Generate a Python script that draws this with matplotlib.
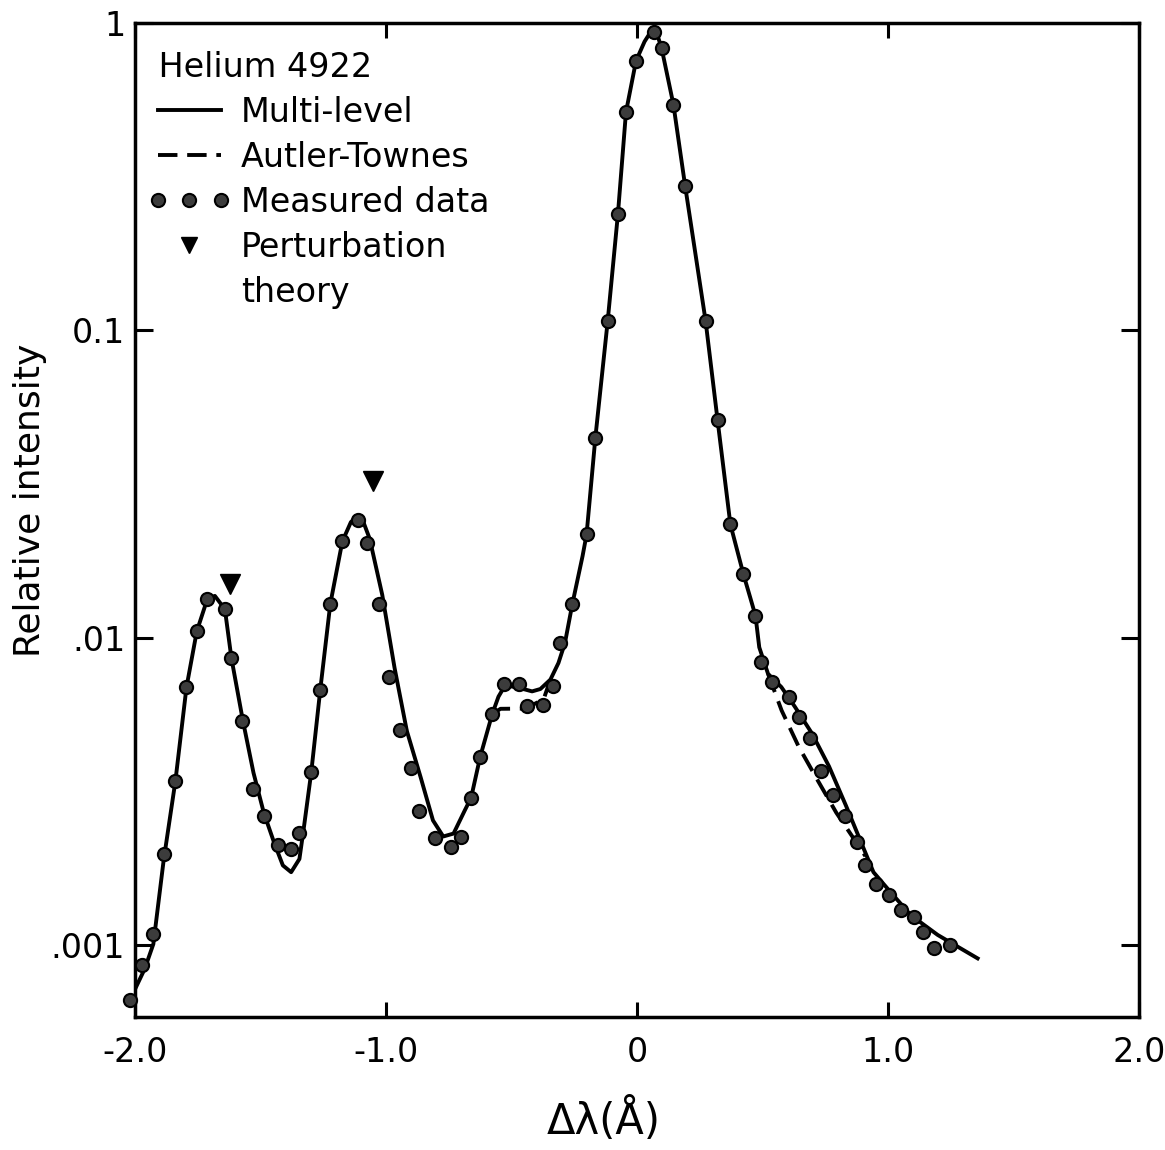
import numpy as np
import matplotlib
matplotlib.use("Agg")
from matplotlib import pyplot as plt
from matplotlib.lines import Line2D
from matplotlib.legend_handler import HandlerLine2D

plt.rcParams['font.family'] = ['DejaVu Sans']

# measured data (delta lambda in Angstrom, relative intensity)
meas_x = [-2.02, -1.974, -1.928, -1.885, -1.839, -1.795, -1.754, -1.713, -1.642, -1.616,
          -1.575, -1.530, -1.487, -1.432, -1.379, -1.346, -1.298, -1.262, -1.222, -1.174,
          -1.112, -1.074, -1.028, -0.988, -0.944, -0.902, -0.867, -0.806, -0.743, -0.702,
          -0.661, -0.625, -0.577, -0.529, -0.472, -0.440, -0.374, -0.336, -0.307, -0.258,
          -0.201, -0.166, -0.117, -0.076, -0.044, -0.004, 0.066, 0.098, 0.145, 0.192,
          0.273, 0.321, 0.372, 0.424, 0.472, 0.494, 0.538, 0.605, 0.646, 0.690,
          0.734, 0.782, 0.827, 0.875, 0.909, 0.954, 1.003, 1.051, 1.102, 1.138,
          1.183, 1.248]
meas_y = [6.66e-4, 8.62e-4, 1.087e-3, 1.975e-3, 3.43e-3, 6.91e-3, 1.051e-2, 1.334e-2, 1.24e-2, 8.62e-3,
          5.37e-3, 3.23e-3, 2.64e-3, 2.12e-3, 2.06e-3, 2.32e-3, 3.65e-3, 6.78e-3, 1.287e-2, 2.06e-2,
          2.41e-2, 2.03e-2, 1.287e-2, 7.44e-3, 5.01e-3, 3.78e-3, 2.74e-3, 2.23e-3, 2.09e-3, 2.25e-3,
          3.02e-3, 4.10e-3, 5.65e-3, 7.08e-3, 7.08e-3, 6.01e-3, 6.07e-3, 6.97e-3, 9.63e-3, 1.285e-2,
          2.17e-2, 4.48e-2, 0.107, 0.2395, 0.513, 0.753, 0.933, 0.828, 0.543, 0.294,
          0.1077, 0.0510, 0.0234, 0.0161, 0.0118, 8.33e-3, 7.18e-3, 6.43e-3, 5.54e-3, 4.71e-3,
          3.70e-3, 3.09e-3, 2.63e-3, 2.17e-3, 1.82e-3, 1.582e-3, 1.453e-3, 1.30e-3, 1.238e-3, 1.107e-3,
          9.78e-4, 1.005e-3]

# perturbation theory
pert_x = [-1.622, -1.053]
pert_y = [1.50e-2, 3.25e-2]

# multi-level calculation (solid curve)
multi_x = [-2.00, -1.961, -1.927, -1.886, -1.839, -1.795, -1.754, -1.713, -1.682, -1.642,
           -1.616, -1.571, -1.528, -1.487, -1.446, -1.411, -1.378, -1.345, -1.326, -1.298,
           -1.262, -1.222, -1.174, -1.140, -1.112, -1.090, -1.065, -1.015, -0.966, -0.917,
           -0.862, -0.813, -0.772, -0.731, -0.686, -0.661, -0.625, -0.577, -0.552, -0.525,
           -0.465, -0.418, -0.385, -0.345, -0.313, -0.287, -0.258, -0.217, -0.201, -0.166,
           -0.117, -0.076, -0.044, -0.004, 0.030, 0.062, 0.080, 0.098, 0.145, 0.192,
           0.273, 0.321, 0.372, 0.424, 0.451, 0.472, 0.487, 0.522, 0.575, 0.629,
           0.697, 0.765, 0.833, 0.888, 0.942, 1.010, 1.091, 1.198, 1.357]
multi_y = [7.2e-4, 8.4e-4, 1.01e-3, 1.89e-3, 3.43e-3, 6.91e-3, 1.05e-2, 1.33e-2, 1.37e-2, 1.24e-2,
           8.6e-3, 5.42e-3, 3.64e-3, 2.70e-3, 2.16e-3, 1.82e-3, 1.73e-3, 1.91e-3, 2.46e-3, 3.65e-3,
           6.78e-3, 1.29e-2, 2.06e-2, 2.38e-2, 2.50e-2, 2.38e-2, 2.10e-2, 1.38e-2, 7.99e-3, 4.98e-3,
           3.52e-3, 2.55e-3, 2.26e-3, 2.31e-3, 2.75e-3, 3.02e-3, 4.10e-3, 5.65e-3, 6.44e-3, 7.02e-3,
           6.86e-3, 6.70e-3, 6.82e-3, 7.32e-3, 8.29e-3, 9.64e-3, 1.285e-2, 1.845e-2, 2.17e-2, 4.48e-2,
           0.107, 0.2395, 0.513, 0.753, 0.87, 0.957, 0.92, 0.828, 0.543, 0.294,
           0.1077, 0.051, 0.0234, 0.0161, 0.01353, 0.0118, 9.32e-3, 7.64e-3, 6.92e-3, 5.97e-3,
           4.89e-3, 3.82e-3, 2.84e-3, 2.21e-3, 1.73e-3, 1.49e-3, 1.253e-3, 1.081e-3, 9.07e-4]

# Autler-Townes curve where it departs from the multi-level one
at_shoulder_x = [-0.577, -0.544, -0.444, -0.372, -0.345]
at_shoulder_y = [5.65e-3, 5.88e-3, 5.89e-3, 6.32e-3, 7.32e-3]
at_tail_x = [0.522, 0.576, 0.644, 0.719, 0.794, 0.874, 0.91]
at_tail_y = [7.64e-3, 5.81e-3, 4.43e-3, 3.45e-3, 2.70e-3, 2.16e-3, 1.95e-3]

fig = plt.figure(figsize=(11.65, 11.5), dpi=100)
ax = fig.add_axes([0.1159, 0.1157, 0.8618, 0.8643])

lw = 2.8
dash = (0, (5, 2.5))
ax.plot(multi_x, multi_y, color='k', lw=lw, zorder=2)
ax.plot(at_shoulder_x, at_shoulder_y, color='k', lw=lw, ls=dash, zorder=2)
ax.plot(at_tail_x, at_tail_y, color='k', lw=lw, ls=dash, zorder=2)
ax.plot(meas_x, meas_y, ls='none', marker='o', ms=9.5, mfc='#3c3c3c', mec='k', mew=1.5,
        zorder=3, clip_on=False)
ax.plot(pert_x, pert_y, ls='none', marker='v', ms=14, color='k', zorder=3)

ax.set_yscale('log')
ax.set_xlim(-2, 2)
ax.set_ylim(5.85e-4, 1.0)
ax.set_xticks([-2, -1, 0, 1, 2])
ax.set_xticklabels(['-2.0', '-1.0', '0', '1.0', '2.0'])
ax.set_yticks([1e-3, 1e-2, 1e-1, 1])
ax.set_yticklabels(['.001', '.01', '0.1', '1'])
ax.minorticks_off()
ax.tick_params(axis='both', which='major', direction='in', top=True, right=True,
               width=2.2, labelsize=24)
ax.tick_params(axis='x', length=11, pad=14)
ax.tick_params(axis='y', length=13, pad=7)
for s in ax.spines.values():
    s.set_linewidth(2.5)

ax.set_xlabel('Δλ(Å)', fontsize=30)
ax.xaxis.set_label_coords(0.467, -0.082)
ax.set_ylabel('Relative intensity', fontsize=26)
ax.yaxis.set_label_coords(-0.088, 0.52)

h_multi = Line2D([], [], color='k', lw=lw)
h_at = Line2D([], [], color='k', lw=lw, ls=dash)
h_meas = Line2D([], [], ls='none', marker='o', ms=9.5, mfc='#3c3c3c', mec='k', mew=1.5)
h_pert = Line2D([], [], ls='none', marker='v', ms=12, color='k')
h_blank = Line2D([], [], ls='none')
leg = ax.legend([h_multi, h_at, h_meas, h_pert, h_blank],
                ['Multi-level', 'Autler-Townes', 'Measured data', 'Perturbation', 'theory'],
                title=' Helium 4922', title_fontsize=24, fontsize=24, loc='upper left',
                bbox_to_anchor=(0.006, 0.979), borderaxespad=0,
                frameon=False, numpoints=3, handlelength=2.5, handletextpad=0.3,
                labelspacing=0.36, borderpad=0.2, alignment='left',
                handler_map={h_pert: HandlerLine2D(numpoints=1),
                             h_blank: HandlerLine2D(numpoints=1)})

fig.savefig('out.png', dpi=100)
